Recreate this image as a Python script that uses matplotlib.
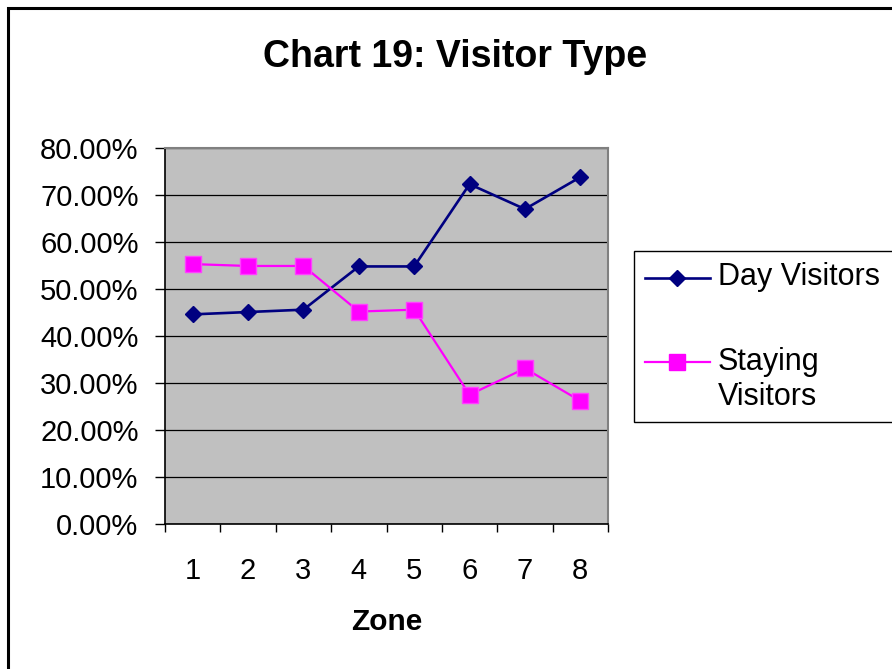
import matplotlib
matplotlib.use("Agg")
import matplotlib.pyplot as plt
from matplotlib.lines import Line2D
from matplotlib.patches import Rectangle
from matplotlib.ticker import PercentFormatter, FixedLocator

plt.rcParams['font.family'] = ['Liberation Sans', 'DejaVu Sans']

# visitor split per zone (percent)
zones = ['1', '2', '3', '4', '5', '6', '7', '8']
day_visitors = [44.6, 45.1, 45.6, 54.8, 54.8, 72.3, 67.0, 73.8]
staying_visitors = [55.3, 54.9, 54.9, 45.2, 45.6, 27.5, 33.1, 26.2]

W, H = 892, 669
NAVY = '#000080'
PINK = '#FF00FF'

def px(x, y):
    # pixel position -> figure fraction
    return x / W, 1 - y / H

fig = plt.figure(figsize=(W / 100, H / 100), dpi=100)
fig.patch.set_facecolor('white')

# outer chart border (runs off the right and bottom)
bx, by = px(8, 700)
fig.add_artist(Rectangle((bx, by), 1.2, px(0, 8)[1] - by,
                         transform=fig.transFigure, fill=False,
                         edgecolor='black', linewidth=2.2, clip_on=False))

l, t = px(165, 148)
r, b = px(608, 524)
ax = fig.add_axes([l, b, r - l, t - b])
ax.set_facecolor('#C0C0C0')

xs = list(range(1, len(zones) + 1))
ax.plot(xs, day_visitors, color=NAVY, linewidth=1.9, marker='D',
        markersize=8, markerfacecolor=NAVY, markeredgecolor=NAVY, zorder=3)
ax.plot(xs, staying_visitors, color=PINK, linewidth=1.6, marker='s',
        markersize=11.5, markerfacecolor=PINK, markeredgecolor='#FF40FF',
        zorder=3)

ax.set_xlim(0.5, len(zones) + 0.5)
ax.set_ylim(0, 80)
ax.set_yticks(range(0, 81, 10))
ax.yaxis.set_major_formatter(PercentFormatter(xmax=100, decimals=2))
ax.grid(axis='y', color='black', linewidth=0.9)
ax.set_axisbelow(True)

ax.set_xticks(xs)
ax.set_xticklabels(zones)
ax.xaxis.set_minor_locator(FixedLocator([i + 0.5 for i in range(len(zones) + 1)]))
ax.tick_params(axis='x', which='major', length=0, pad=24, labelsize=21)
ax.tick_params(axis='x', which='minor', length=6, width=1, direction='out')
ax.tick_params(axis='y', length=7, width=1, pad=12, labelsize=21)

for side in ('left', 'bottom'):
    ax.spines[side].set_color('black')
    ax.spines[side].set_linewidth(1.2)
for side in ('top', 'right'):
    ax.spines[side].set_color('#808080')
    ax.spines[side].set_linewidth(1.5)

ax.set_xlabel('Zone', fontsize=21.5, fontweight='bold', labelpad=0)
ax.xaxis.set_label_coords(0.5, 1 - (630 - 148) / (524 - 148))
ax.xaxis.label.set_va('baseline')

fig.text(*px(455, 67), 'Chart 19: Visitor Type', ha='center', va='baseline',
         fontsize=27, fontweight='bold')

# legend box
lx0, ly0 = px(634, 422)
lx1, ly1 = px(900, 251)
fig.add_artist(Rectangle((lx0, ly0), lx1 - lx0, ly1 - ly0,
                         transform=fig.transFigure, facecolor='white',
                         edgecolor='black', linewidth=1.0, clip_on=False))
entries = [
    ('Day Visitors', NAVY, 'D', 8, 1.9, 278, 285),
    ('Staying\nVisitors', PINK, 's', 11.5, 1.6, 362, 405),
]
for label, color, mk, ms, lw, yy, base in entries:
    x0, y0 = px(645, yy)
    x1, _ = px(710, yy)
    xm, _ = px(677, yy)
    fig.add_artist(Line2D([x0, x1], [y0, y0], color=color, linewidth=lw,
                          transform=fig.transFigure))
    fig.add_artist(Line2D([xm], [y0], color=color, marker=mk, markersize=ms,
                          transform=fig.transFigure))
    fig.text(*px(718, base), label, ha='left', va='baseline',
             fontsize=22, linespacing=1.2)

fig.savefig('out.png', dpi=100)
